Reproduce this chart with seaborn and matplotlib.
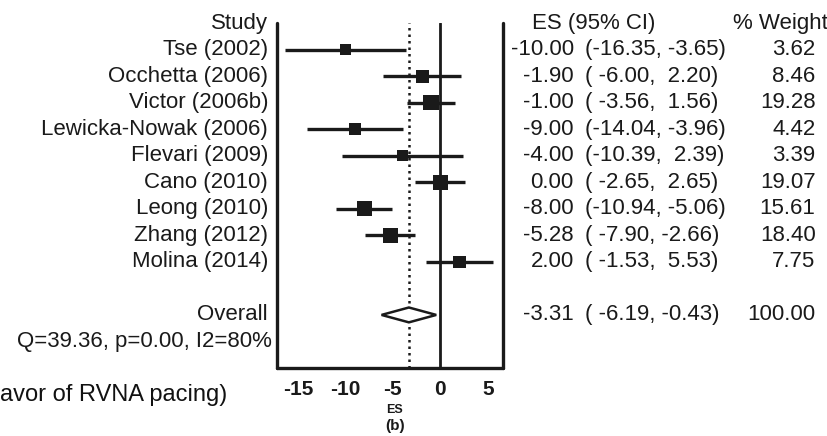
import numpy as np
import pandas as pd
import matplotlib
matplotlib.use("Agg")
import matplotlib.pyplot as plt
import matplotlib.transforms as mtransforms
import seaborn as sns

studies = ["Tse (2002)", "Occhetta (2006)", "Victor (2006b)", "Lewicka-Nowak (2006)",
           "Flevari (2009)", "Cano (2010)", "Leong (2010)", "Zhang (2012)", "Molina (2014)"]
es = [-10.00, -1.90, -1.00, -9.00, -4.00, 0.00, -8.00, -5.28, 2.00]
lo = [-16.35, -6.00, -3.56, -14.04, -10.39, -2.65, -10.94, -7.90, -1.53]
hi = [-3.65, 2.20, 1.56, -3.96, 2.39, 2.65, -5.06, -2.66, 5.53]
weight = [3.62, 8.46, 19.28, 4.42, 3.39, 19.07, 15.61, 18.40, 7.75]
overall_es, overall_lo, overall_hi = -3.31, -6.19, -0.43
heterogeneity = "Q=39.36, p=0.00, I2=80%"
xticks = [-15, -10, -5, 0, 5]

df = pd.DataFrame({"study": studies, "es": es, "lo": lo, "hi": hi, "weight": weight})
df["row"] = np.arange(1, len(df) + 1)
overall_row = len(df) + 2

sns.set_style("white")
plt.rcParams["font.family"] = ["Liberation Sans", "DejaVu Sans"]
ink = "#1a1a1a"

fig = plt.figure(figsize=(8.28, 4.36), dpi=100)
ax = fig.add_axes([0.3345, 0.156, 0.273, 0.791])

# reference lines
ax.axvline(0, color=ink, lw=2.0, zorder=1)
ax.axvline(overall_es, color=ink, lw=1.8, ls=(0, (1, 1.6)), zorder=1)

# confidence intervals and weighted boxes
ax.hlines(df["row"], df["lo"], df["hi"], color=ink, lw=2.4, zorder=2)
sns.scatterplot(data=df, x="es", y="row", size="weight", sizes=(65, 125),
                marker="s", color=ink, edgecolor=ink, linewidth=0,
                legend=False, ax=ax, zorder=3)

# overall diamond
h = 0.28
ax.fill([overall_lo, overall_es, overall_hi, overall_es],
        [overall_row, overall_row - h, overall_row, overall_row + h],
        facecolor="white", edgecolor=ink, lw=1.8, zorder=3)

ax.set_xlim(-17.2, 6.6)
ax.set_ylim(13, 0)
ax.set_yticks([])
ax.set_xticks(xticks)
ax.set_xticklabels([str(t) for t in xticks], fontsize=15, fontweight="bold", color=ink)
ax.tick_params(axis="x", length=0, pad=9)
ax.set_xlabel("")
ax.set_ylabel("")
for side in ["left", "right", "bottom"]:
    ax.spines[side].set_color(ink)
    ax.spines[side].set_linewidth(2.4)
    ax.spines[side].set_capstyle("round")
ax.spines["top"].set_visible(False)

tr = mtransforms.blended_transform_factory(fig.transFigure, ax.transData)
fs = 16

ax.text(0.3237, 0, "Study", transform=tr, ha="right", va="center", fontsize=fs, color=ink)
ax.text(0.6425, 0, "ES (95% CI)", transform=tr, ha="left", va="center", fontsize=fs, color=ink)
ax.text(1.0, 0, "% Weight", transform=tr, ha="right", va="center", fontsize=fs, color=ink)

for _, r in df.iterrows():
    ax.text(0.3237, r["row"], r["study"], transform=tr, ha="right", va="center",
            fontsize=fs, color=ink)
    ax.text(0.693, r["row"], f"{r['es']:.2f}", transform=tr, ha="right", va="center",
            fontsize=fs, color=ink)
    ax.text(0.707, r["row"], f"({r['lo']:6.2f}, {r['hi']:5.2f})", transform=tr,
            ha="left", va="center", fontsize=fs, color=ink)
    ax.text(0.985, r["row"], f"{r['weight']:.2f}", transform=tr, ha="right", va="center",
            fontsize=fs, color=ink)

ax.text(0.3237, overall_row, "Overall", transform=tr, ha="right", va="center", fontsize=fs, color=ink)
ax.text(0.693, overall_row, f"{overall_es:.2f}", transform=tr, ha="right", va="center",
        fontsize=fs, color=ink)
ax.text(0.707, overall_row, f"({overall_lo:6.2f}, {overall_hi:5.2f})", transform=tr,
        ha="left", va="center", fontsize=fs, color=ink)
ax.text(0.985, overall_row, f"{sum(weight):.2f}", transform=tr, ha="right", va="center",
        fontsize=fs, color=ink)
ax.text(0.328, overall_row + 1, heterogeneity, transform=tr, ha="right", va="center",
        fontsize=fs, color=ink)

fig.text(0.477, 0.060, "ES", ha="center", va="center", fontsize=9, fontweight="bold", color=ink)
fig.text(0.477, 0.022, "(b)", ha="center", va="center", fontsize=11, fontweight="bold", color=ink)
fig.text(0.0, 0.094, "avor of RVNA pacing)", ha="left", va="center", fontsize=17, color="#111111")

fig.savefig("out.png", dpi=100)
